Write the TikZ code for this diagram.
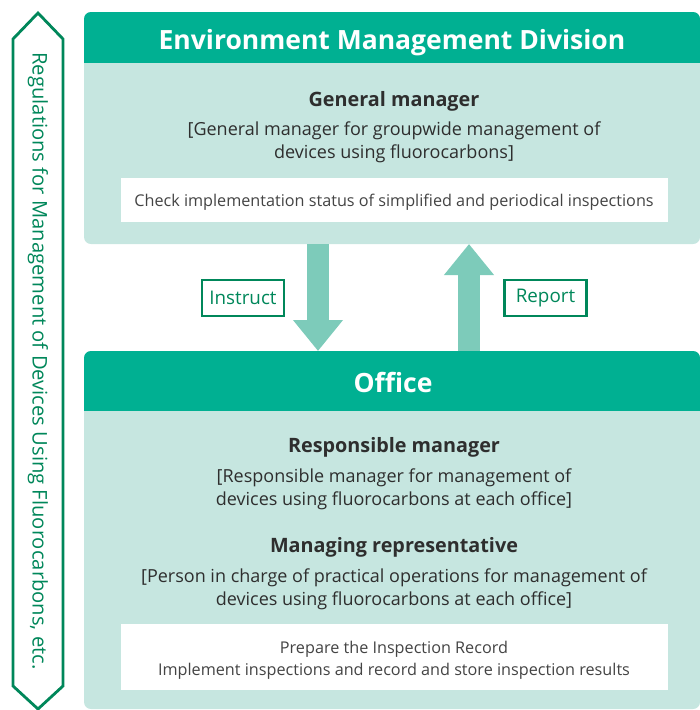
\documentclass[tikz,border=0pt]{standalone}
\usepackage{fontspec}
\setmainfont{Open Sans}
\usetikzlibrary{arrows.meta,calc}
\definecolor{hdr}{HTML}{00B092}
\definecolor{bodyc}{HTML}{C6E6E0}
\definecolor{arrc}{HTML}{7DCBBA}
\definecolor{dgreen}{HTML}{00875A}
\definecolor{txt}{HTML}{2E2E2E}
\definecolor{ltxt}{HTML}{444444}
\tikzset{
  bodybox/.style={fill=bodyc,rounded corners=7pt},
  hdrbox/.style={fill=hdr,rounded corners=7pt},
  whitebox/.style={fill=white},
  title/.style={anchor=base,text=white,font=\fontsize{26.5}{30}\selectfont\bfseries,inner sep=0pt},
  role/.style={anchor=base,text=txt,font=\fontsize{19.8}{22}\selectfont\bfseries,inner sep=0pt},
  desc/.style={anchor=base,text=txt,font=\fontsize{18}{22}\selectfont,inner sep=0pt},
  small/.style={anchor=base,text=ltxt,font=\fontsize{16.2}{20}\selectfont,inner sep=0pt},
  tag/.style={draw=dgreen,line width=2.8pt,text=dgreen,font=\fontsize{18.8}{20}\selectfont,minimum width=82pt,minimum height=36pt,inner sep=0pt},
  blockarrow/.style={draw=arrc,line width=22pt,-{Triangle[width=48pt,length=31pt]}},
}
\begin{document}
\begin{tikzpicture}[x=1pt,y=-1pt]
\useasboundingbox (0,0) rectangle (700,710);
% left banner
\draw[dgreen,line width=2.8pt,fill=white,line join=miter] (13,39) -- (38,13) -- (63,39) -- (63,686) -- (38,709) -- (13,686) -- cycle;
\node[rotate=-90,text=dgreen,font=\fontsize{20.2}{22}\selectfont,inner sep=0pt] (reg) at (38,361) {Regulations for Management of Devices Using Fluorocarbons, etc.};
% top box
\path[bodybox] (84,12) rectangle (700,244);
\path[hdrbox] (84,12) rectangle (700,80);
\fill[bodyc] (84,63) rectangle (700,90);
\node[title] (envt) at (392,49.5) {Environment Management Division};
\node[role] (gm) at (394,106) {General manager};
\node[desc] (gm1) at (394,135) {[General manager for groupwide management of};
\node[desc] (gm2) at (394,158) {devices using fluorocarbons]};
\node[whitebox,minimum width=547pt,minimum height=44pt,inner sep=0pt] (chk) at (394.5,200) {};
\node[small] (chkt) at (394,206.5) {Check implementation status of simplified and periodical inspections};
% office box
\path[bodybox] (84,351) rectangle (700,709);
\path[hdrbox] (84,351) rectangle (700,420);
\fill[bodyc] (84,411) rectangle (700,430);
\node[title] (offt) at (393,392.5) {Office};
\node[role] (rm) at (394,452) {Responsible manager};
\node[desc] (rm1) at (394,482) {[Responsible manager for management of};
\node[desc] (rm2) at (394,505) {devices using fluorocarbons at each office]};
\node[role] (mr) at (394,552) {Managing representative};
\node[desc] (mr1) at (394,582) {[Person in charge of practical operations for management of};
\node[desc] (mr2) at (394,605) {devices using fluorocarbons at each office]};
\node[whitebox,minimum width=547pt,minimum height=66pt,inner sep=0pt] (prep) at (394.5,657) {};
\node[small] (p1) at (394,653) {Prepare the Inspection Record};
\node[small] (p2) at (394,675.5) {Implement inspections and record and store inspection results};
% arrows
\coordinate (a1t) at (318,244);
\coordinate (a1b) at (318,351);
\coordinate (a2t) at (469,244);
\coordinate (a2b) at (469,351);
\draw[blockarrow] (a1t) -- (a1b);
\draw[blockarrow] (a2b) -- (a2t);
\node[tag] (ins) at (243,298) {Instruct};
\node[tag] (rep) at (545.5,298) {Report};
\end{tikzpicture}
\end{document}
